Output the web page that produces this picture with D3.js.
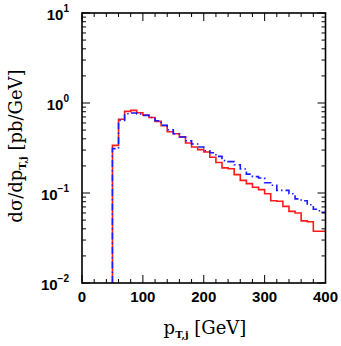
<!DOCTYPE html>
<html>
<head>
<meta charset="utf-8">
<script src="https://cdn.jsdelivr.net/npm/d3@7"></script>
<style>
  body { margin: 0; background: #fff; }
  svg { display: block; }
</style>
</head>
<body>
<svg id="svg" width="341" height="346"></svg>
<script>
// bin lower edges (GeV), width 10
const binEdges = [50, 60, 70, 80, 90, 100, 110, 120, 130, 140, 150, 160, 170, 180, 190,
                  200, 210, 220, 230, 240, 250, 260, 270, 280, 290, 300, 310, 320, 330,
                  340, 350, 360, 370, 380, 390];
const binWidth = 10;

// red solid
const redVals = [0.338, 0.66, 0.807, 0.828, 0.78, 0.735, 0.69, 0.625, 0.56, 0.48,
                 0.455, 0.42, 0.36, 0.325, 0.303, 0.285, 0.25, 0.218, 0.19, 0.186,
                 0.16, 0.138, 0.127, 0.116, 0.109, 0.098, 0.082, 0.081, 0.071, 0.0625,
                 0.06, 0.049, 0.048, 0.0376, 0.0376];
// blue dash-dot
const blueVals = [0.311, 0.641, 0.76, 0.775, 0.755, 0.728, 0.69, 0.635, 0.565, 0.505,
                  0.456, 0.419, 0.38, 0.35, 0.324, 0.295, 0.28, 0.255, 0.229, 0.223,
                  0.206, 0.185, 0.162, 0.152, 0.147, 0.13, 0.122, 0.107, 0.107, 0.098,
                  0.086, 0.082, 0.074, 0.066, 0.061];

const xTicks = [0, 100, 200, 300, 400];
const yDecades = [-2, -1, 0, 1];

const svg = d3.select("#svg");
const pLeft = 82, pRight = 325.5, pTop = 13, pBottom = 283;

const x = d3.scaleLinear().domain([0, 400]).range([pLeft, pRight]);
const y = d3.scaleLog().domain([0.01, 10]).range([pBottom, pTop]);

// histogram outline: up from the floor at the first edge, then steps
function steps(vals) {
  const pts = [[binEdges[0], 0.01]];
  vals.forEach((v, i) => {
    pts.push([binEdges[i], v]);
    pts.push([binEdges[i] + binWidth, v]);
  });
  return pts;
}
const line = d3.line().x(d => x(d[0])).y(d => y(d[1]));

const plot = svg.append("g");
plot.append("defs").append("clipPath").attr("id", "clip")
    .append("rect").attr("x", pLeft).attr("y", pTop)
    .attr("width", pRight - pLeft).attr("height", pBottom - pTop);

plot.append("path")
    .attr("d", line(steps(redVals)))
    .attr("clip-path", "url(#clip)")
    .attr("fill", "none")
    .attr("stroke", "#ff1a1a")
    .attr("stroke-width", 1.6);

plot.append("path")
    .attr("d", line(steps(blueVals)))
    .attr("clip-path", "url(#clip)")
    .attr("fill", "none")
    .attr("stroke", "#1a1aff")
    .attr("stroke-width", 1.6)
    .attr("stroke-dasharray", "7,3,1.5,3");

// ticks, inside on all four sides
const tk = svg.append("g").attr("stroke", "#000").attr("stroke-width", 1);
d3.range(0, 401, 20).forEach(v => {
  const len = v % 100 === 0 ? 8 : 4;
  tk.append("line").attr("x1", x(v)).attr("x2", x(v)).attr("y1", pBottom).attr("y2", pBottom - len);
  tk.append("line").attr("x1", x(v)).attr("x2", x(v)).attr("y1", pTop).attr("y2", pTop + len);
});
yDecades.forEach(d => {
  const base = Math.pow(10, d);
  tk.append("line").attr("x1", pLeft).attr("x2", pLeft + 8).attr("y1", y(base)).attr("y2", y(base));
  tk.append("line").attr("x1", pRight).attr("x2", pRight - 8).attr("y1", y(base)).attr("y2", y(base));
  if (d === 1) return;
  for (let k = 2; k <= 9; k++) {
    const v = k * base;
    tk.append("line").attr("x1", pLeft).attr("x2", pLeft + 4).attr("y1", y(v)).attr("y2", y(v));
    tk.append("line").attr("x1", pRight).attr("x2", pRight - 4).attr("y1", y(v)).attr("y2", y(v));
  }
});

// frame
svg.append("rect")
    .attr("x", pLeft).attr("y", pTop)
    .attr("width", pRight - pLeft).attr("height", pBottom - pTop)
    .attr("fill", "none").attr("stroke", "#000").attr("stroke-width", 1.6);

// tick labels
const lab = svg.append("g")
    .attr("font-family", "Liberation Sans, Arial, sans-serif")
    .attr("font-weight", "bold")
    .attr("font-size", 15)
    .attr("fill", "#000");

xTicks.forEach(v => {
  lab.append("text").attr("x", x(v)).attr("y", 302)
     .attr("text-anchor", "middle").text(v);
});

yDecades.forEach(d => {
  const t = lab.append("text").attr("x", 69).attr("y", y(Math.pow(10, d)) + 6.5)
     .attr("text-anchor", "end");
  t.append("tspan").text("10");
  t.append("tspan").attr("dy", -8).attr("font-size", 10)
   .text(d < 0 ? "\u2212" + (-d) : String(d));
});

// axis titles
const ttl = svg.append("g")
    .attr("font-family", "DejaVu Serif, Liberation Serif, serif")
    .attr("font-size", 18)
    .attr("fill", "#000");

const xt = ttl.append("text").attr("x", 205).attr("y", 334).attr("text-anchor", "middle");
xt.append("tspan").text("p");
xt.append("tspan").attr("dy", 4).attr("font-size", 10).attr("font-weight", "bold").text("T,j");
xt.append("tspan").attr("dy", -4).text("\u00a0[GeV]");

const yt = ttl.append("text")
    .attr("transform", "translate(22,146) rotate(-90)")
    .attr("text-anchor", "middle");
yt.append("tspan").text("d\u03c3/dp");
yt.append("tspan").attr("dy", 4).attr("font-size", 10).attr("font-weight", "bold").text("T,j");
yt.append("tspan").attr("dy", -4).text("\u00a0[pb/GeV]");
</script>
</body>
</html>
